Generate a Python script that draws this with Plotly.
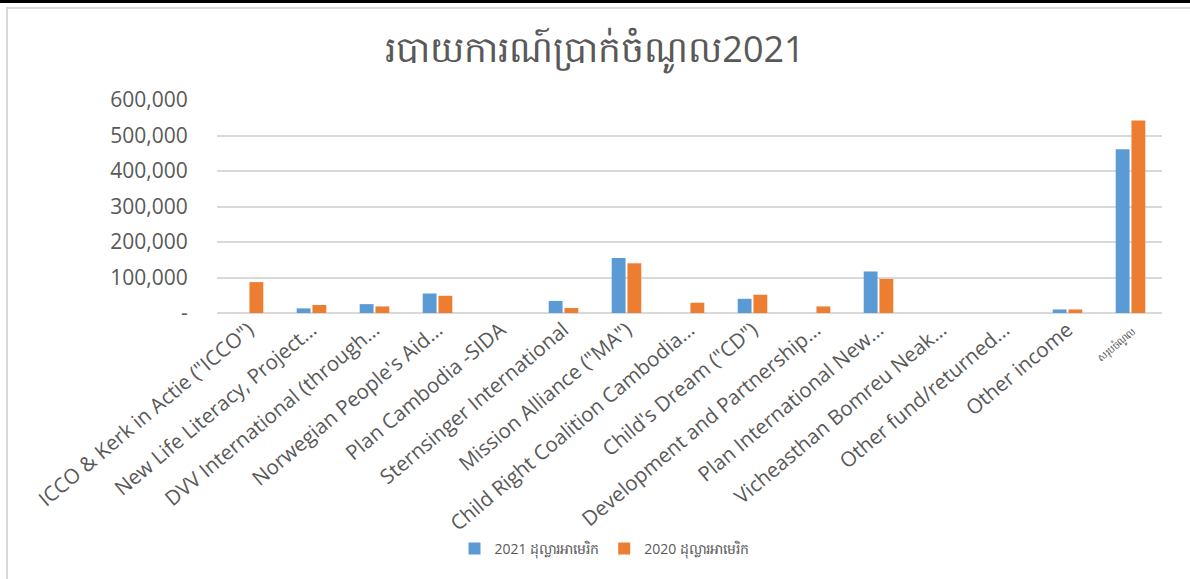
import plotly.graph_objects as go

categories = [
    'ICCO & Kerk in Actie ("ICCO")',
    'New Life Literacy, Project…',
    'DVV International (through…',
    "Norwegian People's Aid…",
    'Plan Cambodia -SIDA',
    'Sternsinger International',
    'Mission Alliance ("MA")',
    'Child Right Coalition Cambodia…',
    'Child\'s Dream ("CD")',
    'Development and Partnership…',
    'Plan International New…',
    'Vicheasthan Bomreu Neak…',
    'Other fund/returned…',
    'Other income',
    'សរុបចំណូល',
]
values_2021 = [0, 13000, 25000, 55000, 0, 34000, 155000, 0, 40000, 0, 117000, 0, 0, 10000, 461000]
values_2020 = [87000, 22500, 18500, 48500, 0, 14000, 140000, 29000, 51500, 18500, 96000, 0, 0, 10000, 542000]
series_names = ["2021 ដុល្លារអាមេរិក", "2020 ដុល្លារអាមេរិក"]
y_tickvals = [0, 100000, 200000, 300000, 400000, 500000, 600000]
y_ticktext = ["-", "100,000", "200,000", "300,000", "400,000", "500,000", "600,000"]
title_text = "របាយការណ៍ប្រាក់ចំណូល2021"

tick_text = [c if i < len(categories) - 1 else '<span style="font-size:10px">' + c + '</span>'
             for i, c in enumerate(categories)]

W, H = 1190, 579
L, R, T, B = 217, 28, 100, 266

fig = go.Figure()
fig.add_trace(go.Bar(x=categories, y=values_2021, name=series_names[0],
                     marker=dict(color="#5B9BD5", line=dict(width=0))))
fig.add_trace(go.Bar(x=categories, y=values_2020, name=series_names[1],
                     marker=dict(color="#ED7D31", line=dict(width=0))))

def px_x(p):
    return (p - L) / (W - L - R)

def px_y(p):
    return (H - B - p) / (H - B - T)

shapes = [
    dict(type="line", xref="paper", yref="paper", x0=px_x(0), x1=px_x(W), y0=px_y(1.5), y1=px_y(1.5),
         line=dict(color="black", width=3)),
    dict(type="line", xref="paper", yref="paper", x0=px_x(6), x1=px_x(W), y0=px_y(8), y1=px_y(8),
         line=dict(color="#D9D9D9", width=2)),
    dict(type="line", xref="paper", yref="paper", x0=px_x(7), x1=px_x(7), y0=px_y(8), y1=px_y(H),
         line=dict(color="#D9D9D9", width=2)),
]

fig.update_layout(
    width=W, height=H,
    margin=dict(l=L, r=R, t=T, b=B, autoexpand=False),
    paper_bgcolor="white", plot_bgcolor="white",
    barmode="group", bargap=0.5, bargroupgap=0.12,
    title=dict(text=title_text, x=0.5, xanchor="center", y=1 - 49 / H, yanchor="middle",
               font=dict(family="Open Sans", size=36, color="#595959")),
    font=dict(family="Open Sans", color="#595959"),
    xaxis=dict(tickangle=-40, tickfont=dict(size=20.5, color="#595959"),
               ticktext=tick_text, tickvals=categories, tickmode="array", automargin=False,
               showgrid=False, showline=False, ticks=""),
    yaxis=dict(range=[0, 600000], tickvals=y_tickvals, ticktext=y_ticktext, automargin=False,
               tickfont=dict(size=21, color="#595959"),
               showgrid=True, gridcolor="#D9D9D9", gridwidth=1.5,
               zeroline=True, zerolinecolor="#D9D9D9", zerolinewidth=1.5,
               showline=False, ticks="outside", ticklen=24, tickcolor="rgba(0,0,0,0)"),
    legend=dict(orientation="h", xref="container", yref="container", x=0.508, xanchor="center",
                y=1 - 549 / H, yanchor="middle", font=dict(size=14, color="#595959"),
                itemwidth=30),
    shapes=shapes,
)

fig.write_html("out.html", config={"displayModeBar": False},
               post_script="document.body.style.margin='0';")
